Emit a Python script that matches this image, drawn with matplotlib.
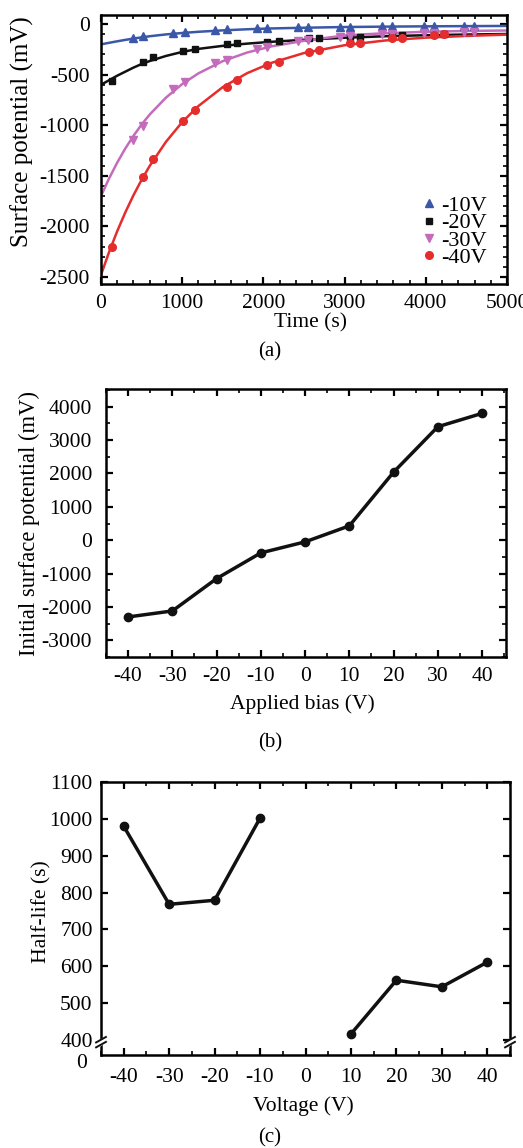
import numpy as np
import matplotlib
matplotlib.use('Agg')
import matplotlib.pyplot as plt
from matplotlib.ticker import MultipleLocator

plt.rcParams['font.family'] = ['Liberation Serif', 'DejaVu Serif']
plt.rcParams['axes.unicode_minus'] = False

# ---- (a) surface potential decay ----
t_fit = [0, 100, 200, 300, 400, 500, 600, 800, 1000, 1200, 1500, 1800, 2100,
         2500, 3000, 3500, 4000, 4500, 5000]
fit_10 = [-200, -185, -170, -156, -143, -131, -120, -102, -88, -76, -62, -51,
          -43, -36, -29, -25, -22, -20, -18]
fit_20 = [-600, -555, -510, -470, -430, -395, -365, -315, -275, -245, -215,
          -193, -175, -155, -135, -120, -110, -103, -98]
fit_30 = [-1700, -1525, -1369, -1229, -1105, -993, -894, -727, -593, -487,
          -366, -281, -220, -165, -112, -90, -76, -68, -63]
fit_40 = [-2480, -2253, -2047, -1861, -1692, -1540, -1402, -1164, -969, -810,
          -623, -485, -383, -286, -209, -162, -134, -117, -104]

t_a = [398, 522, 891, 1035, 1405, 1549, 1919, 2042, 2432, 2555, 2946, 3069,
       3459, 3583, 3973, 4096, 4466, 4589]
pts_10 = [-135, -120, -85, -75, -58, -52, -40, -37, -32, -30, -26, -25, -22,
          -21, -20, -19, -18, -17]
pts_30 = [-1145, -1007, -645, -569, -388, -355, -250, -224, -170, -158, -125,
          -118, -100, -96, -86, -84, -78, -76]
t_b = [131, 522, 645, 1015, 1159, 1549, 1672, 2042, 2186, 2556, 2679, 3069,
       3192, 3583, 3706, 4096, 4220]
pts_20 = [-559, -372, -329, -263, -250, -201, -191, -178, -164, -141, -141,
          -132, -128, -110, -105, -102, -100]
pts_40 = [-2204, -1516, -1332, -954, -849, -625, -553, -405, -372, -280, -257,
          -191, -184, -141, -135, -112, -102]

# ---- (b) initial surface potential ----
bias = [-40, -30, -20, -10, 0, 10, 20, 30, 40]
init_pot = [-2300, -2120, -1150, -380, -50, 430, 2040, 3400, 3800]

# ---- (c) half-life ----
volt_neg = [-40, -30, -20, -10]
half_neg = [980, 768, 779, 1002]
volt_pos = [10, 20, 30, 40]
half_pos = [416, 562, 544, 611]

fig = plt.figure(figsize=(5.23, 11.48), dpi=100)
W, H = 523, 1148


def add_ax(l, r, t, b):
    return fig.add_axes([l / W, 1 - b / H, (r - l) / W, (b - t) / H])


def style(ax, ypad, xpad):
    for s in ax.spines.values():
        s.set_linewidth(1.8)
    ax.tick_params(which='both', direction='in', top=True, right=True,
                   labelsize=15.5)
    ax.tick_params(which='major', length=5, width=1.6)
    ax.tick_params(which='minor', length=2.8, width=1.2)
    ax.tick_params(axis='y', pad=ypad)
    ax.tick_params(axis='x', pad=xpad)


# panel (a)
ax1 = add_ax(101, 507, 15, 284)
ax1.plot(t_fit, fit_10, color='#3b58a8', lw=1.8)
ax1.plot(t_fit, fit_20, color='#111111', lw=1.8)
ax1.plot(t_fit, fit_30, color='#c46cbc', lw=1.8)
ax1.plot(t_fit, fit_40, color='#e52d2d', lw=1.8)
ax1.plot(t_a, pts_10, '^', color='#3b58a8', ms=5.5, label='-10V')
ax1.plot(t_b, pts_20, 's', color='#111111', ms=5, label='-20V')
ax1.plot(t_a, pts_30, 'v', color='#c46cbc', ms=5.5, label='-30V')
ax1.plot(t_b, pts_40, 'o', color='#e52d2d', ms=5.5, label='-40V')
ax1.set_xlim(0, 5000)
ax1.set_ylim(-2570, 90)
ax1.xaxis.set_major_locator(MultipleLocator(1000))
ax1.xaxis.set_minor_locator(MultipleLocator(200))
ax1.yaxis.set_major_locator(MultipleLocator(500))
ax1.yaxis.set_minor_locator(MultipleLocator(100))
style(ax1, 8, 7)
ax1.set_xlabel('Time (s)', fontsize=15.5)
ax1.xaxis.set_label_coords(0.515, -0.145)
ax1.xaxis.label.set_va('center')
ax1.set_ylabel('Surface potential (mV)', fontsize=18)
ax1.yaxis.set_label_coords(-0.195, 0.565)
ax1.yaxis.label.set_va('center')
ax1.legend(loc='lower right', bbox_to_anchor=(0.95, 0.06), frameon=False,
           fontsize=16, labelspacing=-0.15, handlelength=0.7,
           handletextpad=0.2, borderpad=0, borderaxespad=0)
fig.text(270 / W, 1 - 352 / H, '(a)', ha='center', va='center', fontsize=15)

# panel (b)
ax2 = add_ax(106, 506, 389, 657)
ax2.plot(bias, init_pot, '-o', color='#111111', lw=2.5, ms=6)
ax2.set_xlim(-45, 45.4)
ax2.set_ylim(-3500, 4530)
ax2.xaxis.set_major_locator(MultipleLocator(10))
ax2.xaxis.set_minor_locator(MultipleLocator(5))
ax2.yaxis.set_major_locator(MultipleLocator(1000))
ax2.yaxis.set_minor_locator(MultipleLocator(500))
ax2.set_yticks(np.arange(-3000, 4001, 1000))
style(ax2, 10, 7)
ax2.set_xlabel('Applied bias (V)', fontsize=15.5)
ax2.xaxis.set_label_coords(0.49, -0.175)
ax2.xaxis.label.set_va('center')
ax2.set_ylabel('Initial surface potential (mV)', fontsize=16.3)
ax2.yaxis.set_label_coords(-0.1925, 0.498)
ax2.yaxis.label.set_va('center')
fig.text(270 / W, 1 - 743 / H, '(b)', ha='center', va='center', fontsize=15)

# panel (c)
ax3 = add_ax(101, 510, 782, 1055)
ax3.plot(volt_neg, half_neg, '-o', color='#111111', lw=2.5, ms=6)
ax3.plot(volt_pos, half_pos, '-o', color='#111111', lw=2.5, ms=6)
ax3.set_xlim(-45, 45)
ax3.set_ylim(359, 1100)
ax3.xaxis.set_major_locator(MultipleLocator(10))
ax3.xaxis.set_minor_locator(MultipleLocator(5))
ax3.set_yticks(np.arange(400, 1101, 100))
style(ax3, 6, 9)
ax3.text(-0.035, -0.03, '0', transform=ax3.transAxes, ha='right',
         va='center', fontsize=15.5)
# axis break marks
for xb in (0.0, 1.0):
    ax3.plot([xb - 0.012, xb + 0.012], [0.032, 0.058], transform=ax3.transAxes,
             color='white', lw=4, clip_on=False, zorder=5)
    for dy in (0.0, 0.018):
        ax3.plot([xb - 0.012, xb + 0.012], [0.028 + dy, 0.048 + dy],
                 transform=ax3.transAxes, color='#111111', lw=1.4,
                 clip_on=False, zorder=6)
ax3.set_xlabel('Voltage (V)', fontsize=15.5)
ax3.xaxis.set_label_coords(0.494, -0.187)
ax3.xaxis.label.set_va('center')
ax3.set_ylabel('Half-life (s)', fontsize=15.6)
ax3.yaxis.set_label_coords(-0.144, 0.525)
ax3.yaxis.label.set_va('center')
fig.text(270 / W, 1 - 1138 / H, '(c)', ha='center', va='center', fontsize=15)

fig.savefig('out.png', dpi=100)
